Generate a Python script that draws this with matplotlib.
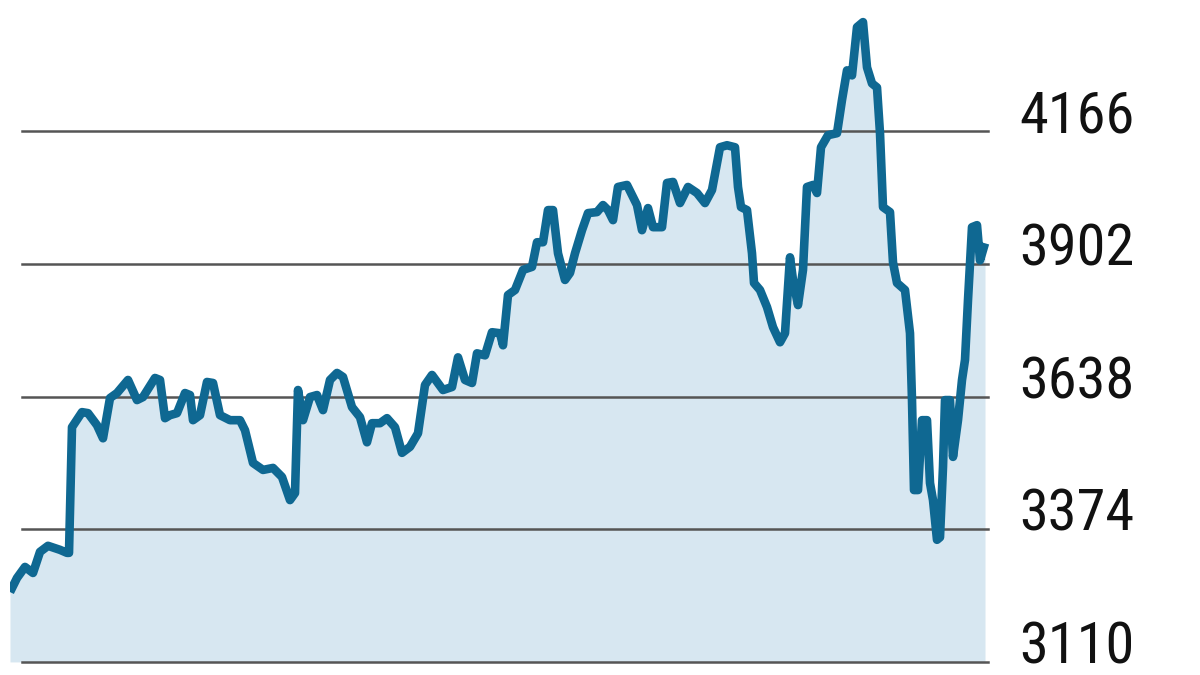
import matplotlib
matplotlib.use("Agg")
import matplotlib.pyplot as plt
from matplotlib import font_manager

# position along the time axis (trading-day scale) and index level
day = [0, 7, 15, 23, 30, 38, 50, 57, 59, 62, 72, 78, 87, 93, 100, 107, 118, 127, 133,
       145, 150, 155, 160, 167, 175, 180, 183, 190, 197, 203, 210, 220, 230, 235,
       243, 253, 263, 272, 280, 285, 288, 293, 300, 307, 313, 320, 327, 333, 342,
       350, 357, 362, 370, 377, 385, 392, 400, 408, 415, 422, 433, 442, 448, 455,
       462, 467, 475, 482, 490, 493, 498, 505, 513, 522, 527, 533, 538, 543, 548,
       555, 560, 565, 572, 578, 587, 593, 598, 603, 608, 617, 623, 627, 632, 638,
       643, 652, 657, 663, 670, 678, 687, 695, 702, 710, 717, 725, 728, 731, 737,
       742, 744, 750, 757, 763, 770, 775, 780, 783, 788, 793, 797, 803, 807, 811,
       818, 827, 832, 837, 842, 847, 853, 857, 862, 867, 870, 873, 880, 883, 887,
       895, 900, 902, 904, 908, 912, 917, 920, 923, 927, 930, 933, 935, 940, 943,
       948, 952, 955, 958, 962, 967, 970, 975]
level = [3249, 3277, 3299, 3287, 3329, 3341, 3333, 3327, 3327, 3577, 3607, 3605,
         3581, 3555, 3635, 3645, 3671, 3631, 3637, 3675, 3671, 3595, 3601, 3605,
         3645, 3641, 3591, 3601, 3667, 3665, 3601, 3591, 3591, 3571, 3506, 3492,
         3496, 3478, 3432, 3446, 3651, 3591, 3637, 3641, 3611, 3671, 3685, 3677,
         3617, 3597, 3547, 3585, 3585, 3595, 3577, 3526, 3538, 3565, 3661, 3681,
         3651, 3657, 3716, 3671, 3665, 3724, 3720, 3766, 3764, 3740, 3840, 3850,
         3890, 3896, 3945, 3945, 4009, 4009, 3923, 3870, 3884, 3923, 3969, 4003,
         4005, 4019, 4009, 3989, 4055, 4059, 4035, 4019, 3969, 4013, 3975, 3975,
         4063, 4065, 4023, 4055, 4043, 4023, 4049, 4134, 4138, 4134, 4055, 4015,
         4009, 3923, 3864, 3850, 3816, 3776, 3746, 3764, 3915, 3870, 3820, 3890,
         4055, 4059, 4043, 4134, 4158, 4162, 4228, 4287, 4277, 4373, 4383, 4293,
         4261, 4253, 4162, 4015, 4005, 3905, 3864, 3850, 3764, 3631, 3452, 3452,
         3591, 3591, 3466, 3432, 3353, 3358, 3498, 3631, 3631, 3518, 3591, 3671,
         3711, 3830, 3975, 3979, 3909, 3943]

tick_values = [3110, 3374, 3638, 3902, 4166]
tick_labels = ["3110", "3374", "3638", "3902", "4166"]

line_col = "#0f6892"
fill_col = "#d7e7f1"
grid_col = "#555555"

# narrow font for the labels if one is around, else plain DejaVu a bit smaller
fonts = font_manager.fontManager.ttflist
lab_font = dict(family="DejaVu Sans", fontstretch="normal", fontsize=36)
for name, stretch in [("Liberation Sans Narrow", None), ("Roboto Condensed", None),
                      ("DejaVu Sans", "condensed"), ("Noto Sans", "condensed"),
                      ("Open Sans", "condensed")]:
    ok = [f for f in fonts if f.name == name and
          (stretch is None or f.stretch in ("condensed", "semi-condensed", 75, 87))]
    if ok:
        lab_font = dict(family=name, fontstretch=stretch or "normal", fontsize=42)
        break

fig = plt.figure(figsize=(12, 6.75), dpi=100)
ax = fig.add_axes([10 / 1200, 0, 980 / 1200, 1])
ax.set_xlim(0, 980)
ax.set_ylim(3084, 4427)
ax.axis("off")

ax.fill_between(day, level, 3110, color=fill_col, lw=0, zorder=1)
for v in tick_values:
    ax.axhline(v, xmin=12 / 980, xmax=978 / 980, color=grid_col, lw=1.8, zorder=2)
ax.plot(day, level, color=line_col, lw=6.2, solid_joinstyle="round",
        solid_capstyle="butt", zorder=3)

trans = ax.get_yaxis_transform()
for v, lab in zip(tick_values, tick_labels):
    ax.text(1.0296, v - 3, lab, transform=trans, ha="left", va="baseline",
            color="#111111", clip_on=False, **lab_font)

fig.savefig("out.png", dpi=100)
